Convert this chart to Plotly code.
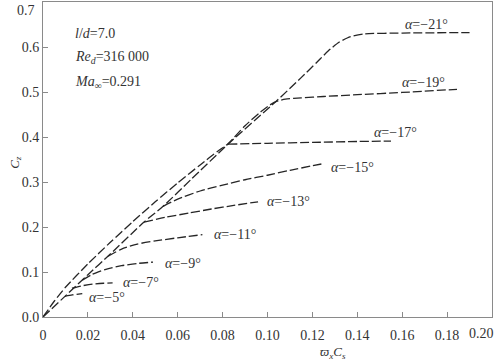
import plotly.graph_objects as go

# ---- data ----
a21_x = [0, 0.01, 0.02, 0.03, 0.045, 0.0535, 0.066, 0.0824, 0.104, 0.115, 0.122, 0.127, 0.132, 0.137, 0.143, 0.16, 0.19]
a21_y = [0, 0.047, 0.094, 0.14, 0.211, 0.246, 0.306, 0.384, 0.48, 0.532, 0.566, 0.591, 0.611, 0.623, 0.629, 0.631, 0.632]

a19_x = [0, 0.005, 0.01, 0.02, 0.03, 0.04, 0.05, 0.06, 0.07, 0.078, 0.0824, 0.09, 0.097, 0.101, 0.104, 0.108, 0.115, 0.125, 0.14, 0.16, 0.1844]
a19_y = [0, 0.035, 0.066, 0.118, 0.166, 0.212, 0.256, 0.298, 0.338, 0.369, 0.385, 0.425, 0.456, 0.471, 0.479, 0.484, 0.487, 0.490, 0.494, 0.499, 0.506]

a17_x = [0.0824, 0.10, 0.12, 0.14, 0.155]
a17_y = [0.384, 0.386, 0.388, 0.390, 0.391]

a15_x = [0.0535, 0.06, 0.07, 0.08, 0.09, 0.10, 0.11, 0.124]
a15_y = [0.246, 0.262, 0.280, 0.293, 0.305, 0.315, 0.326, 0.340]

a13_x = [0.045, 0.055, 0.065, 0.075, 0.085, 0.0958]
a13_y = [0.211, 0.222, 0.231, 0.240, 0.248, 0.256]

a11_x = [0.029, 0.035, 0.042, 0.05, 0.06, 0.071]
a11_y = [0.135, 0.151, 0.162, 0.169, 0.176, 0.183]

a9_x = [0.0175, 0.022, 0.028, 0.035, 0.042, 0.049]
a9_y = [0.082, 0.095, 0.106, 0.114, 0.119, 0.122]

a7_x = [0.0129, 0.017, 0.022, 0.027, 0.031]
a7_y = [0.064, 0.069, 0.073, 0.075, 0.076]

a5_x = [0.0098, 0.013, 0.0175]
a5_y = [0.046, 0.049, 0.052]

labels = ["−21°", "−19°", "−17°", "−15°", "−13°", "−11°", "−9°", "−7°", "−5°"]
label_x = [0.1604, 0.159, 0.1466, 0.1274, 0.0989, 0.0753, 0.0535, 0.0347, 0.0196]
label_y = [0.649, 0.522, 0.409, 0.333, 0.256, 0.184, 0.120, 0.0756, 0.044]

xticks = [0, 0.02, 0.04, 0.06, 0.08, 0.10, 0.12, 0.14, 0.16, 0.18, 0.20]
xtick_text = ["0", "0.02", "0.04", "0.06", "0.08", "0.10", "0.12", "0.14", "0.16", "0.18", "0.20"]
yticks = [0, 0.1, 0.2, 0.3, 0.4, 0.5, 0.6, 0.7]
ytick_text = ["0.0", "0.1", "0.2", "0.3", "0.4", "0.5", "0.6", "0.7"]

FONT = "Liberation Serif, Times New Roman, serif"
TXT = "#333"
LINE = dict(color="#262626", width=1.3, dash="9px,3px")

fig = go.Figure()
for xs, ys in [(a21_x, a21_y), (a19_x, a19_y), (a17_x, a17_y), (a15_x, a15_y),
               (a13_x, a13_y), (a11_x, a11_y), (a9_x, a9_y), (a7_x, a7_y), (a5_x, a5_y)]:
    fig.add_trace(go.Scatter(x=xs, y=ys, mode="lines", line=dict(LINE, shape="spline", smoothing=0.6),
                             showlegend=False, hoverinfo="skip", cliponaxis=False))

for t, lx, ly in zip(labels, label_x, label_y):
    fig.add_annotation(x=lx, y=ly, xref="x", yref="y", text="<i>α</i>=" + t, showarrow=False,
                       xanchor="left", yanchor="middle", font=dict(family=FONT, size=14, color=TXT))

info = ["<i>l</i>/<i>d</i>=7.0",
        "<i>Re</i><sub><i>d</i></sub>=316 000",
        "<i>Ma</i><sub>∞</sub>=0.291"]
info_y = [0.631, 0.576, 0.522]
for t, iy in zip(info, info_y):
    fig.add_annotation(x=0.0134, y=iy, xref="x", yref="y", text=t, showarrow=False,
                       xanchor="left", yanchor="middle", font=dict(family=FONT, size=14, color=TXT))

# edge tick labels pulled inside the page, as in the reference
fig.add_annotation(x=0, y=yticks[-1], xref="paper", yref="y", text=ytick_text[-1], showarrow=False,
                   xanchor="right", yanchor="top", xshift=-6, yshift=1,
                   font=dict(family=FONT, size=14, color=TXT))
fig.add_annotation(x=xticks[-1], y=0, xref="x", yref="paper", text=xtick_text[-1], showarrow=False,
                   xanchor="right", yanchor="top", xshift=4, yshift=-7,
                   font=dict(family=FONT, size=14, color=TXT))
xtick_shown = xtick_text[:-1] + [""]
ytick_shown = ytick_text[:-1] + [""]

fig.add_annotation(x=0.129, y=-0.112, xref="x", yref="paper",
                   text="<i>ϖ</i><sub><i>x</i></sub><i>C</i><sub><i>s</i></sub>",
                   showarrow=False, xanchor="center", yanchor="middle",
                   font=dict(family=FONT, size=13, color=TXT))
fig.add_annotation(x=-0.062, y=0.49, xref="paper", yref="paper", text="<i>C</i><sub><i>z</i></sub>",
                   showarrow=False, textangle=-90, xanchor="center", yanchor="middle",
                   font=dict(family=FONT, size=13, color=TXT))

axis_common = dict(showgrid=False, zeroline=False, showline=True, linecolor="#8a8a8a", linewidth=1,
                   mirror=True, ticks="inside", ticklen=5, tickcolor="#8a8a8a", tickwidth=1,
                   automargin=False, tickfont=dict(family=FONT, size=14, color=TXT))
fig.update_xaxes(range=[0, 0.2], tickvals=xticks, ticktext=xtick_shown, ticklabelstandoff=5, **axis_common)
fig.update_yaxes(range=[0, 0.7], tickvals=yticks, ticktext=ytick_shown, **axis_common)

fig.update_layout(width=496, height=362, margin=dict(l=43, r=4, t=2, b=45, autoexpand=False),
                  plot_bgcolor="white", paper_bgcolor="white", font=dict(family=FONT, size=14))
fig.write_html("out.html", config={"displayModeBar": False},
               post_script="document.body.style.margin='0';document.body.style.padding='0';")
